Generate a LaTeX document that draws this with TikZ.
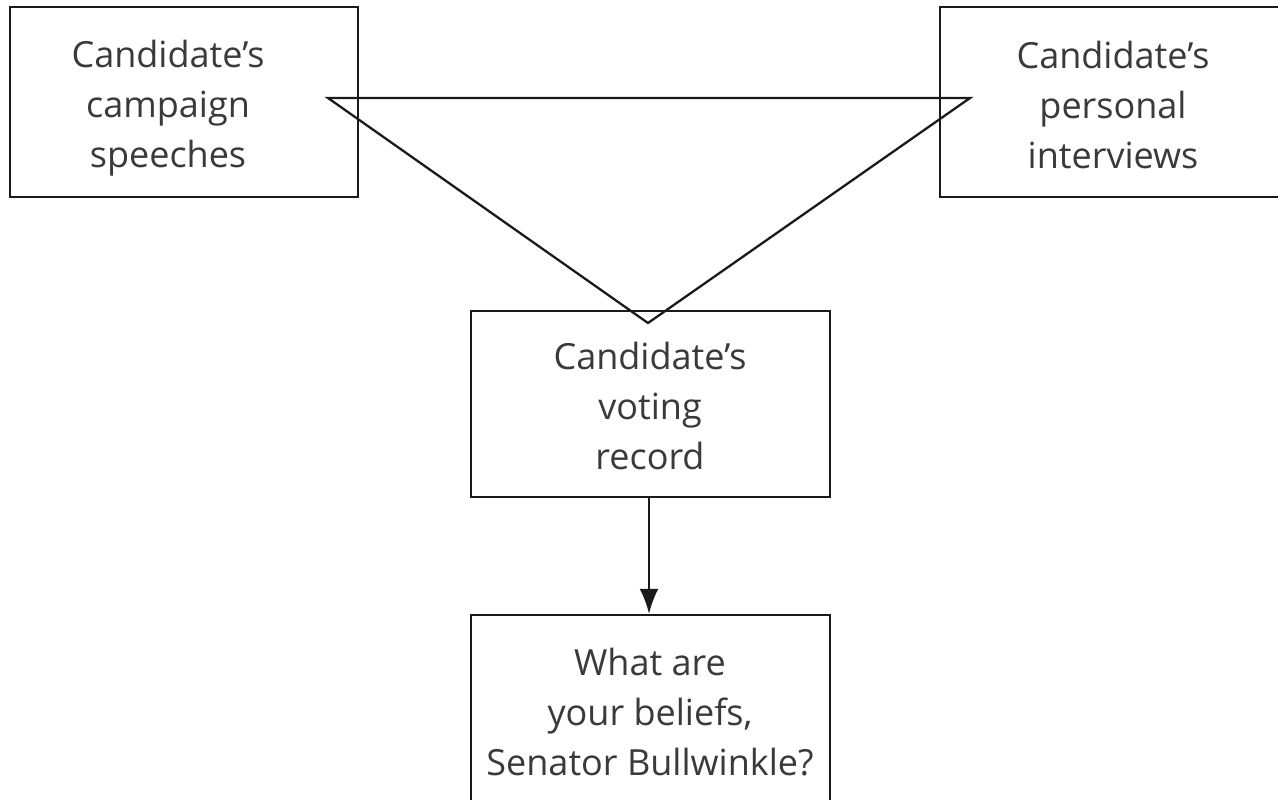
\documentclass[tikz,border=0pt]{standalone}
\usepackage{fontspec}
\setmainfont{Open Sans}
\usetikzlibrary{arrows.meta}
\definecolor{txt}{HTML}{3A3A3A}
\definecolor{ln}{HTML}{1A1A1A}
\begin{document}
\begin{tikzpicture}[x=0.02cm,y=-0.02cm,
  box/.style={draw=ln,line width=1.4pt,rectangle,inner sep=0pt},
  lbl/.style={inner sep=0pt,align=center,text=txt,font=\fontsize{20.5pt}{28.4pt}\selectfont},
  conn/.style={draw=ln,line width=1.3pt}]
\useasboundingbox (0,0) rectangle (1278,799);
\fill[white] (0,0) rectangle (1278,799);
\node[box,minimum width=348*0.02cm,minimum height=190*0.02cm] (speech) at (184,102) {};
\node[lbl] (speecht) at (168,108) {Candidate’s\\campaign\\speeches};
\node[box,minimum width=342*0.02cm,minimum height=190*0.02cm] (interv) at (1111,102) {};
\node[lbl] (intervt) at (1113,105) {Candidate’s\\personal\\interviews};
\node[box,minimum width=359*0.02cm,minimum height=186*0.02cm] (vote) at (650.5,404) {};
\node[lbl] (votet) at (650,406) {Candidate’s\\voting\\record};
\node[box,minimum width=359*0.02cm,minimum height=200*0.02cm] (belief) at (650.5,715) {};
\node[lbl] (belieft) at (650,712) {What are\\your beliefs,\\Senator Bullwinkle?};
\coordinate (tl) at (328,98);
\coordinate (tr) at (970,98);
\coordinate (ap) at (648,323);
\draw[conn,line join=miter] (tl) -- (tr) -- (ap) -- cycle;
\draw[conn,-{Latex[length=0.5cm,width=0.38cm]}] (vote.south -| 649,0) -- (belief.north -| 649,0);
\end{tikzpicture}
\end{document}
